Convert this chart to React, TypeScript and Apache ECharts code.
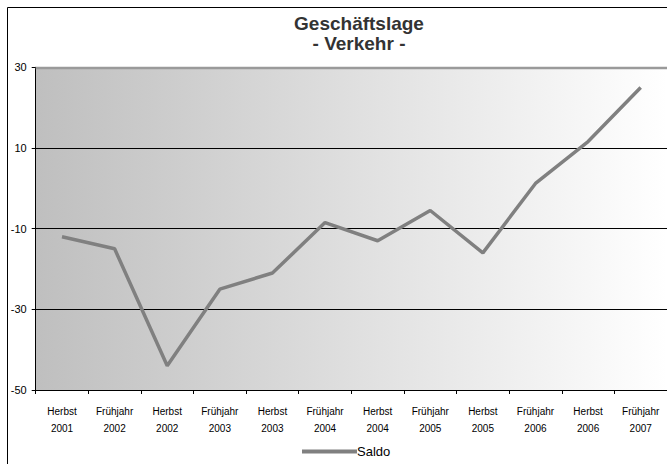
import React, { useEffect, useRef } from "react";
import * as echarts from "echarts";

const categories = [
  "Herbst\n2001", "Frühjahr\n2002", "Herbst\n2002", "Frühjahr\n2003",
  "Herbst\n2003", "Frühjahr\n2004", "Herbst\n2004", "Frühjahr\n2005",
  "Herbst\n2005", "Frühjahr\n2006", "Herbst\n2006", "Frühjahr\n2007",
];
const saldo = [-12, -15, -44, -25, -21, -8.5, -13, -5.5, -16, 1.2, 11.6, 25];
const titleText = "Geschäftslage\n- Verkehr -";
const seriesName = "Saldo";

const FONT = '"Liberation Sans", Arial, sans-serif';

export default function App() {
  const ref = useRef<HTMLDivElement>(null);
  useEffect(() => {
    if (!ref.current) return;
    const chart = echarts.init(ref.current, undefined, { renderer: "svg" });
    chart.setOption({
      animation: false,
      backgroundColor: "#ffffff",
      textStyle: { fontFamily: FONT },
      title: {
        text: titleText,
        left: 354,
        top: 8,
        textAlign: "center",
        textStyle: {
          fontFamily: FONT,
          fontSize: 19,
          fontWeight: "bold",
          color: "#333333",
          lineHeight: 20,
        },
      },
      legend: {
        left: 297,
        top: 440,
        itemWidth: 55,
        itemHeight: 4,
        icon: "rect",
        data: [{ name: seriesName, itemStyle: { color: "#808080" } }],
        textStyle: { fontFamily: FONT, fontSize: 13, color: "#000", padding: [0, 0, 0, -5] },
      },
      grid: {
        left: 35.7,
        top: 67.3,
        right: -1,
        bottom: 74,
        show: true,
        borderWidth: 0,
        backgroundColor: {
          type: "linear",
          x: 0, y: 0, x2: 1, y2: 0,
          colorStops: [
            { offset: 0, color: "#bfbfbf" },
            { offset: 1, color: "#ffffff" },
          ],
        },
      },
      xAxis: {
        type: "category",
        data: categories,
        boundaryGap: true,
        axisLine: { show: true, onZero: false, lineStyle: { color: "#000", width: 1 } },
        axisTick: { show: true, length: 4, lineStyle: { color: "#000" } },
        axisLabel: {
          fontFamily: FONT,
          fontSize: 10,
          color: "#000",
          lineHeight: 17,
          margin: 13,
          interval: 0,
        },
        splitLine: { show: false },
      },
      yAxis: {
        type: "value",
        min: -50,
        max: 30,
        interval: 20,
        axisLine: { show: true, lineStyle: { color: "#000", width: 1 } },
        axisTick: { show: true, length: 4, lineStyle: { color: "#000" } },
        axisLabel: { fontFamily: FONT, fontSize: 11, color: "#000", margin: 9 },
        splitLine: { show: true, lineStyle: { color: "#000", width: 1 } },
      },
      graphic: [
        {
          type: "rect",
          shape: { x: 7.5, y: 7.5, width: 700, height: 500 },
          style: { fill: "none", stroke: "#000", lineWidth: 1 },
          z: 100,
        },
        {
          type: "line",
          shape: { x1: 35.7, y1: 68, x2: 667, y2: 68 },
          style: { stroke: "#9a9a9a", lineWidth: 2.5 },
          z: 100,
        },
      ],
      series: [
        {
          name: seriesName,
          type: "line",
          data: saldo,
          showSymbol: false,
          symbol: "none",
          lineStyle: { color: "#808080", width: 3.5 },
          itemStyle: { color: "#808080" },
        },
      ],
    });
    return () => chart.dispose();
  }, []);
  return (
    <div
      ref={ref}
      style={{ position: "fixed", left: 0, top: 0, width: 667, height: 464 }}
    />
  );
}
